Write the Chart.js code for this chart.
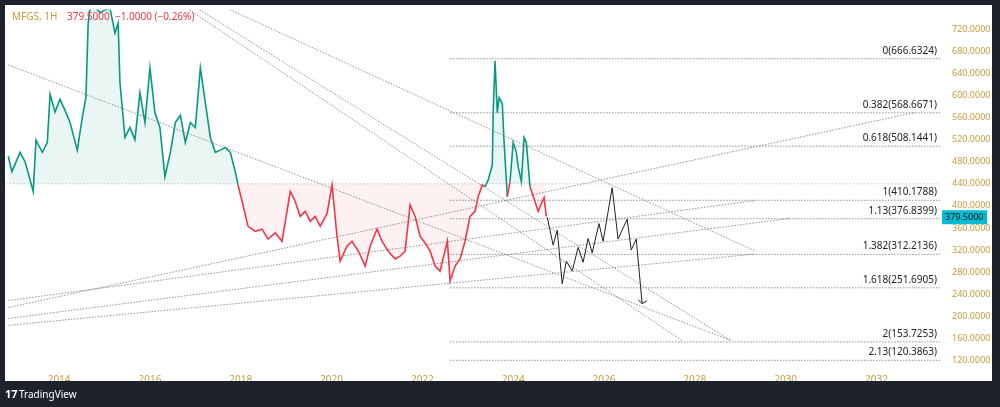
<!DOCTYPE html>
<html>
<head>
<meta charset="utf-8">
<script src="https://cdn.jsdelivr.net/npm/chart.js@4"></script>
<style>
  html, body { margin: 0; padding: 0; background: #1e222d; }
  #wrap { width: 1000px; height: 407px; }
</style>
</head>
<body>
<div id="wrap"><canvas id="chart" width="1000" height="407"></canvas></div>
<script>
// price history (decimal year, price)
const priceYears = [2012.88,2012.96,2013.14,2013.25,2013.43,2013.49,2013.63,2013.74,2013.80,2013.91,2014.02,2014.13,2014.24,2014.40,2014.51,2014.59,2014.64,2014.68,2014.79,2014.90,2015.01,2015.12,2015.23,2015.30,2015.34,2015.45,2015.56,2015.67,2015.78,2015.89,2016.00,2016.11,2016.22,2016.33,2016.45,2016.56,2016.67,2016.78,2016.89,2017.00,2017.11,2017.22,2017.33,2017.44,2017.55,2017.66,2017.77,2017.88,2017.94,2018.03,2018.16,2018.32,2018.47,2018.60,2018.76,2018.91,2019.09,2019.20,2019.31,2019.42,2019.53,2019.64,2019.75,2019.90,2020.01,2020.12,2020.19,2020.34,2020.45,2020.59,2020.74,2020.85,2021.00,2021.11,2021.25,2021.40,2021.51,2021.62,2021.73,2021.84,2021.95,2022.06,2022.17,2022.28,2022.39,2022.55,2022.61,2022.72,2022.83,2022.94,2023.05,2023.16,2023.23,2023.32,2023.38,2023.45,2023.54,2023.56,2023.60,2023.65,2023.69,2023.76,2023.80,2023.87,2023.93,2024.00,2024.07,2024.11,2024.18,2024.24,2024.29,2024.37,2024.48,2024.55,2024.62,2024.68,2024.73];
const priceValues = [490,462,497,480,426,519,497,515,602,570,593,573,551,501,560,596,731,758,760,750,755,758,713,731,623,524,542,520,605,551,650,569,542,453,497,551,564,515,551,542,650,587,524,497,501,506,497,462,438,408,363,354,358,340,351,336,426,408,381,390,372,381,363,386,438,345,300,327,336,318,291,327,358,336,318,304,309,318,402,381,345,333,318,291,282,336,264,291,304,336,381,390,417,438,435,447,474,569,663,569,596,585,515,417,444,515,497,471,444,524,515,435,408,390,404,415,381,379.5];

// projected path
const projYears = [2024.75,2024.88,2024.97,2025.08,2025.17,2025.30,2025.43,2025.54,2025.65,2025.74,2025.89,2025.98,2026.18,2026.31,2026.51,2026.60,2026.71,2026.84];
const projValues = [379.5,329,356,259,300,282,325,298,341,315,368,336,433,340,376,320,340,223];

// fib levels
const fibRatios = ['0','0.382','0.618','1','1.13','1.382','1.618','2','2.13'];
const fibPrices = [666.6324,568.6671,508.1441,410.1788,376.8399,312.2136,251.6905,153.7253,120.3863];
const fibStart = 2022.61;

// trend lines [x1, y1, x2, y2]
const trendLines = [
  [2012.88,655.4,2028.78,156.8],
  [2016.82,757.7,2027.74,155.0],
  [2017.04,757.7,2028.78,156.8],
  [2017.70,757.7,2029.33,318.2],
  [2012.88,216.0,2032.85,569.3],
  [2012.88,228.6,2029.33,409.7],
  [2012.88,196.2,2030.10,377.4],
  [2012.88,183.7,2029.33,312.8]
];

const baseline = 440;
const lastPrice = 379.5;
const xTicks = [2014,2016,2018,2020,2022,2024,2026,2028,2030,2032];
const yTicks = [120,160,200,240,280,320,360,400,440,480,520,560,600,640,680,720];

const xMin = 2012.83, xMax = 2033.4, yMin = 113.7, yMax = 755.9;
const GREEN = '#089981', RED = '#f23645';
const axisColor = '#c89a3a';

const datasets = [];
datasets.push({
  data: priceYears.map((x, i) => ({x, y: priceValues[i]})),
  borderWidth: 1.6,
  pointRadius: 0,
  tension: 0,
  borderColor: GREEN,
  segment: {
    borderColor: ctx => (ctx.p0.parsed.y + ctx.p1.parsed.y) / 2 >= baseline ? GREEN : RED
  },
  fill: { target: { value: baseline }, above: 'rgba(8,153,129,0.09)', below: 'rgba(242,54,69,0.07)' },
  order: 1
});
datasets.push({
  data: projYears.map((x, i) => ({x, y: projValues[i]})),
  borderColor: '#222', borderWidth: 1, pointRadius: 0, fill: false, order: 1
});
trendLines.forEach(t => datasets.push({
  data: [{x: t[0], y: t[1]}, {x: t[2], y: t[3]}],
  borderColor: '#777', borderWidth: 0.8, borderDash: [1.5, 1.5], pointRadius: 0, fill: false, order: 2
}));
fibPrices.forEach(p => datasets.push({
  data: [{x: fibStart, y: p}, {x: xMax, y: p}],
  borderColor: '#777', borderWidth: 0.8, borderDash: [1.5, 1.5], pointRadius: 0, fill: false, order: 2
}));
datasets.push({
  data: [{x: xMin, y: baseline}, {x: xMax, y: baseline}],
  borderColor: '#bbb', borderWidth: 0.8, borderDash: [1.5, 2], pointRadius: 0, fill: false, order: 2
});

const frame = {
  id: 'frame',
  beforeDraw(chart) {
    const c = chart.ctx;
    c.save();
    c.fillStyle = '#1e222d';
    c.fillRect(0, 0, 1000, 407);
    c.fillStyle = '#ffffff';
    c.fillRect(5, 5, 987, 376);
    c.restore();
  },
  afterDatasetsDraw(chart) {
    const c = chart.ctx, xs = chart.scales.x, ys = chart.scales.y;
    c.save();
    // fib labels
    c.font = '10px "Noto Sans", sans-serif';
    c.fillStyle = '#222';
    c.textAlign = 'right';
    c.textBaseline = 'bottom';
    fibPrices.forEach((p, i) => {
      c.fillText(fibRatios[i] + '(' + p.toFixed(4) + ')', xs.right - 3, ys.getPixelForValue(p) - 3);
    });
    // arrow head
    const ax = xs.getPixelForValue(projYears[projYears.length - 1]);
    const ay = ys.getPixelForValue(projValues[projValues.length - 1]);
    c.strokeStyle = '#222'; c.lineWidth = 1;
    c.beginPath();
    c.moveTo(ax - 4, ay - 4); c.lineTo(ax, ay); c.lineTo(ax + 5, ay - 3);
    c.stroke();
    // title
    c.textAlign = 'left'; c.textBaseline = 'middle';
    c.font = '10px "Noto Sans", sans-serif';
    c.fillStyle = '#c89a3a';
    c.fillText('MFGS, 1H', 12, 17);
    c.fillStyle = RED;
    c.fillText('379.5000  \u22121.0000 (\u22120.26%)', 67, 17);
    // price badge
    const py = ys.getPixelForValue(lastPrice);
    c.fillStyle = '#00bcd4';
    c.fillRect(xs.right + 2, py - 7, 45, 14);
    c.fillStyle = '#111';
    c.font = '9px "Noto Sans", sans-serif';
    c.fillText(lastPrice.toFixed(4), xs.right + 5, py);
    // brand
    c.fillStyle = '#ffffff';
    c.font = 'bold 11px "Noto Sans", sans-serif';
    c.fillText('17', 5, 395);
    c.font = '10px "Noto Sans", sans-serif';
    c.fillText('TradingView', 19, 395);
    c.restore();
  }
};

new Chart(document.getElementById('chart'), {
  type: 'line',
  data: { datasets },
  plugins: [frame],
  options: {
    responsive: false,
    animation: false,
    parsing: true,
    layout: { padding: { left: 6, top: 6, right: 8, bottom: 26 } },
    plugins: { legend: { display: false }, tooltip: { enabled: false } },
    scales: {
      x: {
        type: 'linear', min: xMin, max: xMax,
        grid: { display: false }, border: { display: false },
        afterBuildTicks: s => { s.ticks = xTicks.map(v => ({value: v})); },
        afterFit: s => { s.height = 17; },
        ticks: { color: axisColor, font: { size: 10, family: 'Noto Sans' }, padding: 2, maxRotation: 0, callback: v => String(v) }
      },
      y: {
        position: 'right', min: yMin, max: yMax,
        grid: { display: false }, border: { display: false },
        afterBuildTicks: s => { s.ticks = yTicks.map(v => ({value: v})); },
        afterFit: s => { s.width = 52; },
        ticks: { color: axisColor, font: { size: 9, family: 'Noto Sans' }, padding: 4, callback: v => v.toFixed(4) }
      }
    }
  }
});
</script>
</body>
</html>
